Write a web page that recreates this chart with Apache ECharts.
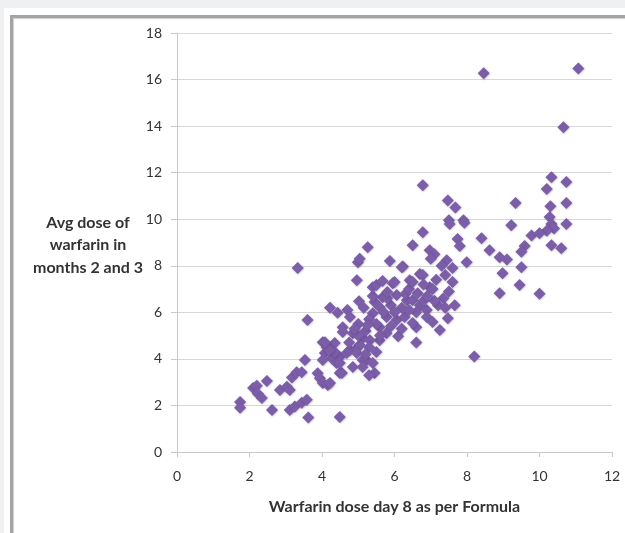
<!DOCTYPE html>
<html>
<head>
<meta charset="utf-8">
<script src="https://cdn.jsdelivr.net/npm/echarts@6/dist/echarts.min.js"></script>
<style>
  html, body { margin: 0; padding: 0; width: 625px; height: 533px; overflow: hidden; background: #eef0f2; }
  #panel { position: absolute; left: 4px; top: 8px; width: 700px; height: 600px; background: #ffffff; }
  #frame { position: absolute; left: 10px; top: 15px; width: 700px; height: 600px; border-left: 3px solid #a4a4a4; border-top: 3px solid #a4a4a4; background: #ffffff; box-shadow: inset 1px 1px 1px #d0d0d0; }
  #chart { position: absolute; left: 0; top: 0; width: 625px; height: 533px; }
</style>
</head>
<body>
<div id="panel"></div>
<div id="frame"></div>
<div id="chart"></div>
<script>
const xTicks = [0, 2, 4, 6, 8, 10, 12];
const yTicks = [0, 2, 4, 6, 8, 10, 12, 14, 16, 18];
const xAxisTitle = 'Warfarin dose day 8 as per Formula';
const yAxisTitle = ['Avg dose of', 'warfarin in', 'months 2 and 3'];

// [formula dose day 8, avg dose months 2-3]
const lowPoints = [
  [1.74,2.15],[1.74,1.9],[2.1,2.75],[2.2,2.85],[2.23,2.5],[2.34,2.32],[2.48,3.05],[2.62,1.8],
  [2.84,2.66],[3.03,2.8],[3.11,2.66],[3.11,1.8],[3.25,1.95],[3.44,2.12],[3.58,2.25],[3.62,1.48],
  [4.49,1.5],[3.17,3.2],[3.3,3.43],[3.44,3.43],[3.53,3.95],[3.88,3.38],[3.94,3.17],[4.02,2.96],
  [4.16,2.88],[4.22,2.96],[3.33,7.9],[3.6,5.67]
];
const midPoints = [
  [4.02,4.72],[4.16,4.5],[4.35,4.68],[4.08,4.25],[4.27,4.03],[4.49,4.08],[4.49,3.39],[4.55,3.39],
  [4.4,3.82],[4.22,6.2],[4.43,5.98],[4.7,6.1],[4.77,5.8],[5.02,6.48],[5.15,6.2],[5.45,6.44],
  [5.4,5.96],[5.59,6.22],[5.67,6.65],[5.78,5.8],[6.06,5.67],[6.06,6.74],[6.28,5.8],[6.34,6.52],
  [6.5,6.52],[6.64,6.82],[6.7,6.3],[6.89,6.1],[6.89,5.8],[6.6,5.36],[6.5,5.54],[6.6,4.7],
  [6.1,4.97],[4.57,5.36],[4.57,5.15],[4.85,5.1],[5.12,4.9],[5.59,5.36],[5.59,4.8],[5.32,4.8],
  [5.78,5.1],[4.13,4.5],[4.35,4.3],[4.68,4.25],[4.77,4.38],[4.96,4.46],[5.04,4.6],[5.3,4.5],
  [4.96,4.25],[4.02,3.95],[4.49,3.82],[5.12,3.95],[5.23,3.95],[5.4,3.82],[5.45,3.39],[4.85,3.65],
  [5.12,3.65],[4.2,4.38],[4.08,4.72],[5.0,5.5],[5.2,5.2],[5.3,5.7],[5.5,5.5],[5.7,6.0],
  [5.9,6.3],[6.2,6.2],[6.3,6.8],[6.6,6.0],[6.8,6.5],[5.4,6.7],[5.6,5.0],[5.2,4.2],
  [5.0,5.0],[4.9,5.3],[5.8,6.6],[6.0,6.0],[6.4,7.0],[6.2,5.3],[5.5,4.3],[5.3,3.3],
  [5.9,5.4],[6.4,6.1],[5.25,5.45],[4.75,4.7]
];
const upperPoints = [
  [4.96,7.38],[4.99,8.15],[5.04,8.3],[5.26,8.8],[5.87,8.2],[6.23,7.97],[5.4,7.08],[5.5,7.17],
  [5.67,7.35],[5.95,7.25],[6.0,7.3],[5.8,6.87],[6.42,7.38],[6.5,7.3],[6.7,7.65],[6.78,7.6],
  [6.97,7.08],[6.5,8.88],[6.78,9.44],[6.78,11.46],[6.2,7.94]
];
const rightPoints = [
  [7.47,10.8],[7.68,10.5],[7.5,9.96],[7.52,9.8],[7.9,9.96],[7.93,9.85],[7.74,9.15],[7.8,8.85],
  [6.97,8.67],[7.1,8.5],[7.44,8.24],[7.99,8.15],[7.0,8.3],[7.3,8.0],[7.4,7.6],[7.6,7.3],
  [7.5,6.9],[7.35,6.6],[7.2,6.3],[7.05,7.0],[7.1,6.5],[7.4,6.2],[7.6,7.9],[7.15,7.4],
  [6.9,6.7],[6.8,7.2],[7.47,5.75],[7.66,6.3],[7.25,5.24],[7.05,5.58],[8.2,4.1]
];
const farRightPoints = [
  [8.46,16.27],[11.07,16.48],[10.66,13.95],[10.33,11.8],[10.74,11.6],[10.2,11.3],[9.34,10.7],
  [10.3,10.56],[10.74,10.7],[10.28,10.1],[10.33,9.8],[10.74,9.8],[9.22,9.74],[10.4,9.6],
  [10.2,9.5],[9.78,9.3],[10.0,9.4],[8.4,9.18],[8.62,8.67],[10.33,8.88],[10.6,8.75],[9.59,8.85],
  [9.5,8.6],[8.9,8.37],[9.1,8.27],[8.98,7.68],[9.5,7.94],[9.45,7.17],[8.9,6.82],[10.0,6.8]
];

const allPoints = [].concat(lowPoints, midPoints, upperPoints, rightPoints, farRightPoints);

const chart = echarts.init(document.getElementById('chart'), null, { renderer: 'canvas' });
const labelFont = 'Lato, "Open Sans", "DejaVu Sans", sans-serif';
chart.setOption({
  backgroundColor: 'transparent',
  animation: false,
  grid: { left: 177, right: 13, top: 33, bottom: 81, containLabel: false },
  xAxis: {
    type: 'value', min: xTicks[0], max: xTicks[xTicks.length - 1], interval: 2,
    name: xAxisTitle, nameLocation: 'middle', nameGap: 47,
    nameTextStyle: { fontFamily: labelFont, fontSize: 16, fontWeight: 'bold', color: '#333' },
    axisLine: { show: true, lineStyle: { color: '#c8c8c8', width: 1 } },
    axisTick: { show: true, length: 5, lineStyle: { color: '#c8c8c8' } },
    axisLabel: { margin: 17, fontFamily: labelFont, fontSize: 14, color: '#333' },
    splitLine: { show: false }
  },
  yAxis: {
    type: 'value', min: yTicks[0], max: yTicks[yTicks.length - 1], interval: 2,
    axisLine: { show: true, lineStyle: { color: '#c8c8c8', width: 1 } },
    axisTick: { show: true, length: 6, lineStyle: { color: '#c8c8c8' } },
    axisLabel: { margin: 15, fontFamily: labelFont, fontSize: 14, color: '#333' },
    splitLine: { show: true, lineStyle: { color: '#d8d8d8', width: 1 } }
  },
  graphic: [{
    type: 'text', x: 88, y: 245,
    style: {
      text: yAxisTitle.join('\n'), fontFamily: labelFont, fontSize: 16, fontWeight: 'bold',
      fill: '#333', align: 'center', textAlign: 'center', verticalAlign: 'middle', textVerticalAlign: 'middle', lineHeight: 22.5
    }
  }],
  series: [{
    type: 'scatter', data: allPoints, symbol: 'diamond', symbolSize: 12,
    itemStyle: { color: '#7b5da8', opacity: 1, shadowColor: 'rgba(60,40,90,0.35)', shadowBlur: 2, shadowOffsetX: 0.5, shadowOffsetY: 0.5 }
  }]
});
</script>
</body>
</html>
